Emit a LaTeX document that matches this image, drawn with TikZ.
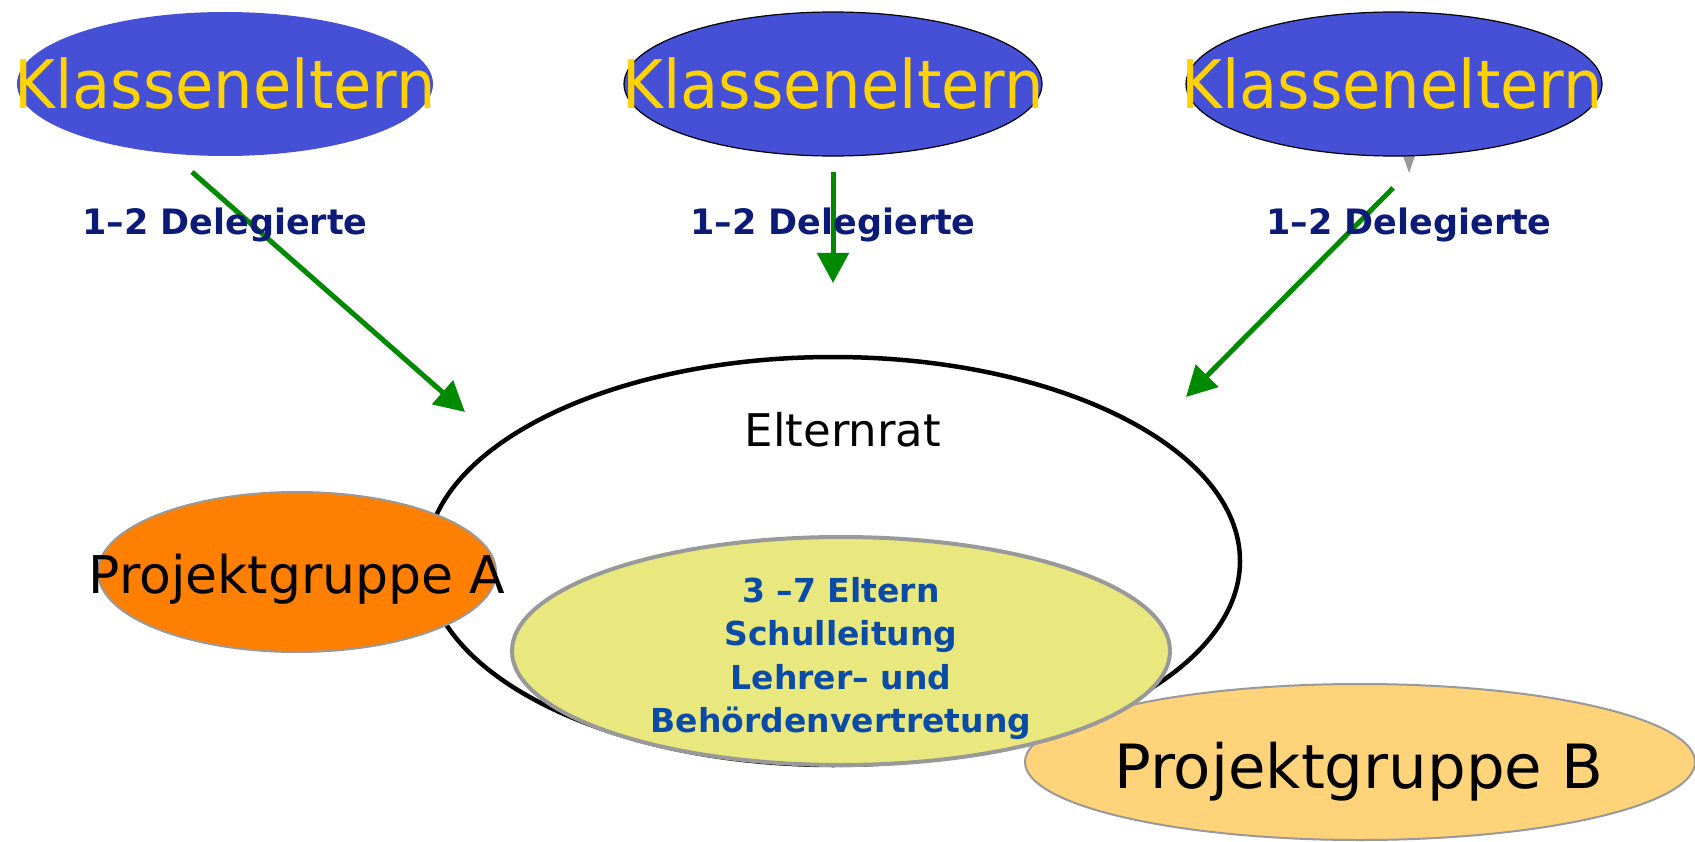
\documentclass[tikz,border=0pt]{standalone}
\usepackage{fontspec}
\setmainfont{DejaVu Sans}
\usepackage{graphicx}
\usetikzlibrary{shapes.geometric,arrows.meta}
\definecolor{kblue}{HTML}{4650D6}
\definecolor{kyellow}{HTML}{FFD200}
\definecolor{navy}{HTML}{0C1A78}
\definecolor{dgreen}{HTML}{008A00}
\definecolor{porange}{HTML}{FF7F00}
\definecolor{pbfill}{HTML}{FED37A}
\definecolor{yfill}{HTML}{E8E87E}
\definecolor{ringgray}{HTML}{999999}
\definecolor{inblue}{HTML}{0A4BA8}
\begin{document}
\begin{tikzpicture}[x=1pt,y=-1pt,
  oval/.style={ellipse, inner sep=0pt, outer sep=0pt},
  kl/.style={oval, fill=kblue, minimum width=416pt, minimum height=144pt},
  kltext/.style={anchor=base, text=kyellow, inner sep=0pt, font=\fontsize{67}{67}\selectfont},
  deleg/.style={anchor=base, text=navy, inner sep=0pt, font=\bfseries\fontsize{35}{35}\selectfont},
  greenarrow/.style={draw=dgreen, line width=5pt, -{Triangle[length=30pt,width=31pt]}},
  proj/.style={oval, draw=ringgray, line width=2pt},
  projtext/.style={anchor=base, text=black, inner sep=0pt},
  intext/.style={anchor=base, text=inblue, inner sep=0pt, font=\bfseries\fontsize{33}{33}\selectfont}
]
\useasboundingbox (0,0) rectangle (1695,842);
\fill[white] (0,0) rectangle (1695,842);

% small gray triangle under third ellipse
\fill[ringgray] (1401,150) -- (1417,150) -- (1409,173) -- cycle;

% Klasseneltern ellipses
\node[kl] (k1) at (225,84) {};
\node[kl, draw=black, line width=1.2pt, minimum width=418pt] (k2) at (833,84) {};
\node[kl, draw=black, line width=1.2pt] (k3) at (1394,84) {};
\node[kltext] (k1t) at (225,109) {\scalebox{0.93}[1]{Klasseneltern}};
\node[kltext] (k2t) at (833,109) {\scalebox{0.93}[1]{Klasseneltern}};
\node[kltext] (k3t) at (1392,109) {\scalebox{0.93}[1]{Klasseneltern}};

% arrows
\coordinate (a1s) at (192,172);
\coordinate (a1e) at (465,412);
\coordinate (a2s) at (833,172);
\coordinate (a2e) at (833,283);
\coordinate (a3s) at (1393,188);
\coordinate (a3e) at (1186,397);
\draw[greenarrow] (a1s) -- (a1e);
\draw[greenarrow] (a2s) -- (a2e);
\draw[greenarrow] (a3s) -- (a3e);

% Delegierte labels
\node[deleg] (d1) at (225,235) {1–2 Delegierte};
\node[deleg] (d2) at (833,235) {1–2 Delegierte};
\node[deleg] (d3) at (1409,235) {1–2 Delegierte};

% Elternrat
\node[oval, draw=black, line width=4.5pt, minimum width=814pt, minimum height=408pt] (er) at (833,561) {};
\node[projtext, font=\fontsize{45}{45}\selectfont] (ert) at (843,446) {Elternrat};

% Projektgruppe A and B
\node[proj, fill=porange, minimum width=398pt, minimum height=160pt] (pa) at (297,572) {};
\node[proj, fill=pbfill, minimum width=670pt, minimum height=156pt] (pb) at (1360,762) {};

% inner yellow ellipse
\node[oval, fill=yfill, draw=ringgray, line width=4pt, minimum width=658pt, minimum height=228pt] (core) at (841,651) {};

\node[projtext, font=\fontsize{52}{52}\selectfont] (pat) at (297,593) {Projektgruppe A};
\node[projtext, font=\fontsize{61}{61}\selectfont] (pbt) at (1359,788) {Projektgruppe B};

\node[intext] (c1) at (841,602) {3 –7 Eltern};
\node[intext] (c2) at (841,645) {Schulleitung};
\node[intext] (c3) at (841,689) {Lehrer– und};
\node[intext] (c4) at (841,732) {Behördenvertretung};
\end{tikzpicture}
\end{document}
